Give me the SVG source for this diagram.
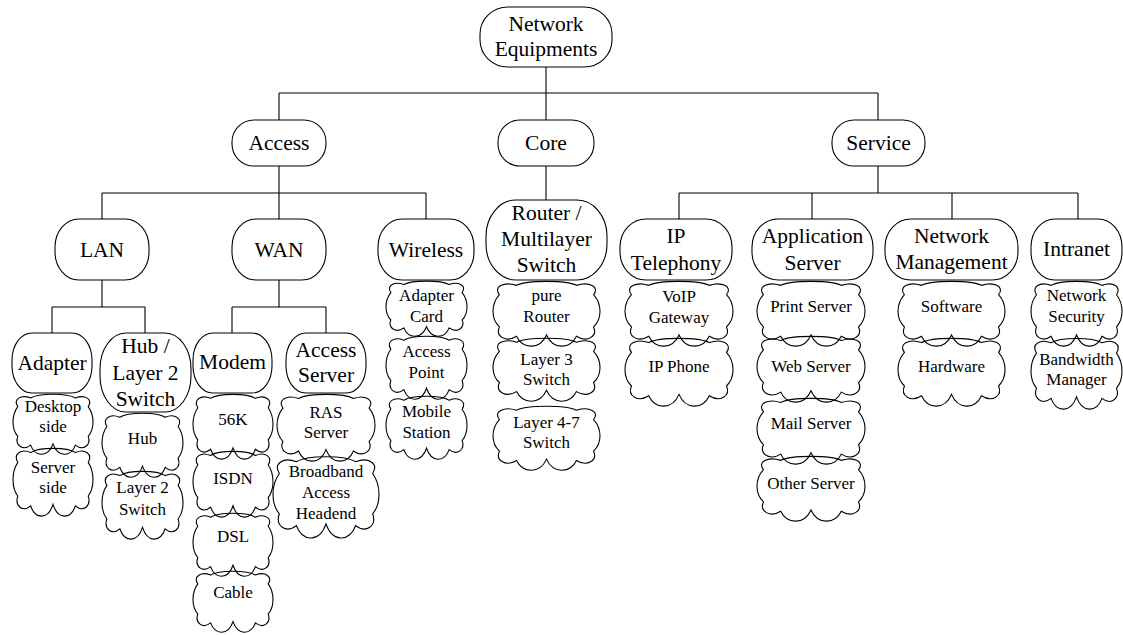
<svg xmlns="http://www.w3.org/2000/svg" xmlns:xlink="http://www.w3.org/1999/xlink" width="1123" height="635" viewBox="0 0 1123 635" font-family="'Liberation Serif', 'Times New Roman', 'DejaVu Serif', serif">
<style>
.box{fill:#fff;stroke:#000;stroke-width:1.1}
.cl{fill:none;stroke:#000;stroke-width:1.1}
.conn line{stroke:#000;stroke-width:1.1}
text{font-family:'Liberation Serif','Times New Roman','DejaVu Serif',serif;fill:#000;text-anchor:middle}
.t1{font-size:21.5px}
.t2{font-size:17px}
</style>
<defs>
<path id="cloud" vector-effect="non-scaling-stroke" d="M22 8 C32 0 68 0 78 8 C90 2 100 10 94 22 C102 36 102 58 94 70 C98 84 88 94 78 84 C72 104 56 104 50 82 C44 104 28 104 22 84 C12 94 2 84 6 70 C-2 58 -2 36 6 22 C0 10 10 2 22 8 Z"/>
</defs>
<rect width="1123" height="635" fill="#fff"/>
<g class="conn" id="connectors">
<line x1="546" y1="67" x2="546" y2="93"/>
<line x1="279" y1="93" x2="878" y2="93"/>
<line x1="279" y1="93" x2="279" y2="120"/>
<line x1="546" y1="93" x2="546" y2="120"/>
<line x1="878" y1="93" x2="878" y2="120"/>
<line x1="279" y1="166" x2="279" y2="193"/>
<line x1="102" y1="193" x2="426" y2="193"/>
<line x1="102" y1="193" x2="102" y2="219"/>
<line x1="279" y1="193" x2="279" y2="219"/>
<line x1="426" y1="193" x2="426" y2="219"/>
<line x1="546" y1="166" x2="546" y2="200"/>
<line x1="878" y1="166" x2="878" y2="193"/>
<line x1="679" y1="193" x2="1078" y2="193"/>
<line x1="679" y1="193" x2="679" y2="219"/>
<line x1="812" y1="193" x2="812" y2="219"/>
<line x1="952" y1="193" x2="952" y2="219"/>
<line x1="1078" y1="193" x2="1078" y2="219"/>
<line x1="102" y1="280" x2="102" y2="307"/>
<line x1="52" y1="307" x2="145" y2="307"/>
<line x1="52" y1="307" x2="52" y2="333"/>
<line x1="145" y1="307" x2="145" y2="333"/>
<line x1="279" y1="280" x2="279" y2="307"/>
<line x1="232" y1="307" x2="326" y2="307"/>
<line x1="232" y1="307" x2="232" y2="333"/>
<line x1="326" y1="307" x2="326" y2="333"/>
</g>
<g id="n-root"><rect class="box" x="480" y="7" width="132" height="60" rx="28" ry="27"/><text class="t1" x="546" y="31">Network</text><text class="t1" x="546" y="56">Equipments</text></g>
<g id="n-access"><rect class="box" x="232" y="120" width="94" height="46" rx="22" ry="22"/><text class="t1" x="279" y="150">Access</text></g>
<g id="n-core"><rect class="box" x="498" y="120" width="96" height="46" rx="22" ry="22"/><text class="t1" x="546" y="150">Core</text></g>
<g id="n-service"><rect class="box" x="832" y="120" width="93" height="46" rx="22" ry="22"/><text class="t1" x="878.5" y="150">Service</text></g>
<g id="n-lan"><rect class="box" x="55" y="219" width="94" height="61" rx="24" ry="28"/><text class="t1" x="102" y="257">LAN</text></g>
<g id="n-wan"><rect class="box" x="232" y="219" width="94" height="61" rx="24" ry="28"/><text class="t1" x="279" y="257">WAN</text></g>
<g id="n-wireless"><rect class="box" x="378" y="219" width="96" height="61" rx="24" ry="28"/><text class="t1" x="426" y="257">Wireless</text></g>
<g id="n-router"><rect class="box" x="486" y="200" width="121" height="80" rx="30" ry="36"/><text class="t1" x="546.5" y="220">Router /</text><text class="t1" x="546.5" y="246">Multilayer</text><text class="t1" x="546.5" y="272">Switch</text></g>
<g id="n-iptel"><rect class="box" x="620" y="219" width="112" height="61" rx="26" ry="28"/><text class="t1" x="676" y="243">IP</text><text class="t1" x="676" y="270">Telephony</text></g>
<g id="n-appserver"><rect class="box" x="752" y="219" width="121" height="61" rx="26" ry="28"/><text class="t1" x="812.5" y="243">Application</text><text class="t1" x="812.5" y="270">Server</text></g>
<g id="n-netmgmt"><rect class="box" x="885" y="219" width="133" height="61" rx="26" ry="28"/><text class="t1" x="951.5" y="243">Network</text><text class="t1" x="951.5" y="269">Management</text></g>
<g id="n-intranet"><rect class="box" x="1031" y="219" width="91" height="61" rx="24" ry="28"/><text class="t1" x="1076.5" y="256">Intranet</text></g>
<g id="n-adapter"><rect class="box" x="12" y="333" width="80" height="60" rx="20" ry="27"/><text class="t1" x="52" y="370">Adapter</text></g>
<g id="n-hub"><rect class="box" x="100" y="333" width="91" height="79" rx="26" ry="36"/><text class="t1" x="145.5" y="353">Hub /</text><text class="t1" x="145.5" y="380">Layer 2</text><text class="t1" x="145.5" y="406">Switch</text></g>
<g id="n-modem"><rect class="box" x="193" y="333" width="79" height="60" rx="20" ry="27"/><text class="t1" x="232.5" y="369">Modem</text></g>
<g id="n-accserver"><rect class="box" x="286" y="333" width="80" height="60" rx="20" ry="27"/><text class="t1" x="326" y="357">Access</text><text class="t1" x="326" y="382">Server</text></g>
<g id="c-desktop"><use href="#cloud" xlink:href="#cloud" class="cl" transform="translate(13 393) scale(0.8 0.62)"/><text class="t2" x="53" y="412">Desktop</text><text class="t2" x="53" y="432">side</text></g>
<g id="c-serverside"><use href="#cloud" xlink:href="#cloud" class="cl" transform="translate(13 447) scale(0.8 0.7)"/><text class="t2" x="53" y="473">Server</text><text class="t2" x="53" y="493">side</text></g>
<g id="c-hub"><use href="#cloud" xlink:href="#cloud" class="cl" transform="translate(102 412) scale(0.81 0.66)"/><text class="t2" x="142.5" y="444">Hub</text></g>
<g id="c-l2switch"><use href="#cloud" xlink:href="#cloud" class="cl" transform="translate(102 470) scale(0.81 0.7)"/><text class="t2" x="142.5" y="493">Layer 2</text><text class="t2" x="142.5" y="515">Switch</text></g>
<g id="c-56k"><use href="#cloud" xlink:href="#cloud" class="cl" transform="translate(193 393) scale(0.8 0.67)"/><text class="t2" x="233" y="425">56K</text></g>
<g id="c-isdn"><use href="#cloud" xlink:href="#cloud" class="cl" transform="translate(193 450) scale(0.8 0.68)"/><text class="t2" x="233" y="484">ISDN</text></g>
<g id="c-dsl"><use href="#cloud" xlink:href="#cloud" class="cl" transform="translate(193 512) scale(0.8 0.65)"/><text class="t2" x="233" y="542">DSL</text></g>
<g id="c-cable"><use href="#cloud" xlink:href="#cloud" class="cl" transform="translate(193 570) scale(0.8 0.63)"/><text class="t2" x="233" y="598">Cable</text></g>
<g id="c-ras"><use href="#cloud" xlink:href="#cloud" class="cl" transform="translate(277 393) scale(0.98 0.69)"/><text class="t2" x="326" y="418">RAS</text><text class="t2" x="326" y="438">Server</text></g>
<g id="c-broadband"><use href="#cloud" xlink:href="#cloud" class="cl" transform="translate(273 455) scale(1.06 0.84)"/><text class="t2" x="326" y="477">Broadband</text><text class="t2" x="326" y="498">Access</text><text class="t2" x="326" y="519">Headend</text></g>
<g id="c-adaptercard"><use href="#cloud" xlink:href="#cloud" class="cl" transform="translate(386 280) scale(0.81 0.57)"/><text class="t2" x="426.5" y="301">Adapter</text><text class="t2" x="426.5" y="322">Card</text></g>
<g id="c-ap"><use href="#cloud" xlink:href="#cloud" class="cl" transform="translate(386 335) scale(0.81 0.65)"/><text class="t2" x="426.5" y="357">Access</text><text class="t2" x="426.5" y="378">Point</text></g>
<g id="c-mobile"><use href="#cloud" xlink:href="#cloud" class="cl" transform="translate(386 395) scale(0.81 0.65)"/><text class="t2" x="426.5" y="417">Mobile</text><text class="t2" x="426.5" y="438">Station</text></g>
<g id="c-purerouter"><use href="#cloud" xlink:href="#cloud" class="cl" transform="translate(493 280) scale(1.07 0.67)"/><text class="t2" x="546.5" y="301">pure</text><text class="t2" x="546.5" y="322">Router</text></g>
<g id="c-l3"><use href="#cloud" xlink:href="#cloud" class="cl" transform="translate(493 337) scale(1.07 0.65)"/><text class="t2" x="546.5" y="365">Layer 3</text><text class="t2" x="546.5" y="385">Switch</text></g>
<g id="c-l47"><use href="#cloud" xlink:href="#cloud" class="cl" transform="translate(493 405) scale(1.07 0.66)"/><text class="t2" x="546.5" y="428">Layer 4-7</text><text class="t2" x="546.5" y="448">Switch</text></g>
<g id="c-voip"><use href="#cloud" xlink:href="#cloud" class="cl" transform="translate(625 280) scale(1.08 0.67)"/><text class="t2" x="679" y="302">VoIP</text><text class="t2" x="679" y="323">Gateway</text></g>
<g id="c-ipphone"><use href="#cloud" xlink:href="#cloud" class="cl" transform="translate(625 337) scale(1.08 0.7)"/><text class="t2" x="679" y="372">IP Phone</text></g>
<g id="c-print"><use href="#cloud" xlink:href="#cloud" class="cl" transform="translate(757 280) scale(1.08 0.67)"/><text class="t2" x="811" y="312">Print Server</text></g>
<g id="c-web"><use href="#cloud" xlink:href="#cloud" class="cl" transform="translate(757 335) scale(1.08 0.68)"/><text class="t2" x="811" y="372">Web Server</text></g>
<g id="c-mail"><use href="#cloud" xlink:href="#cloud" class="cl" transform="translate(757 397) scale(1.08 0.68)"/><text class="t2" x="811" y="429">Mail Server</text></g>
<g id="c-other"><use href="#cloud" xlink:href="#cloud" class="cl" transform="translate(757 455) scale(1.08 0.67)"/><text class="t2" x="811" y="489">Other Server</text></g>
<g id="c-software"><use href="#cloud" xlink:href="#cloud" class="cl" transform="translate(898 280) scale(1.07 0.67)"/><text class="t2" x="951.5" y="312">Software</text></g>
<g id="c-hardware"><use href="#cloud" xlink:href="#cloud" class="cl" transform="translate(898 337) scale(1.07 0.7)"/><text class="t2" x="951.5" y="372">Hardware</text></g>
<g id="c-netsec"><use href="#cloud" xlink:href="#cloud" class="cl" transform="translate(1031 280) scale(0.91 0.67)"/><text class="t2" x="1076.5" y="301">Network</text><text class="t2" x="1076.5" y="322">Security</text></g>
<g id="c-bw"><use href="#cloud" xlink:href="#cloud" class="cl" transform="translate(1031 337) scale(0.91 0.73)"/><text class="t2" x="1076.5" y="365">Bandwidth</text><text class="t2" x="1076.5" y="385">Manager</text></g>
</svg>
